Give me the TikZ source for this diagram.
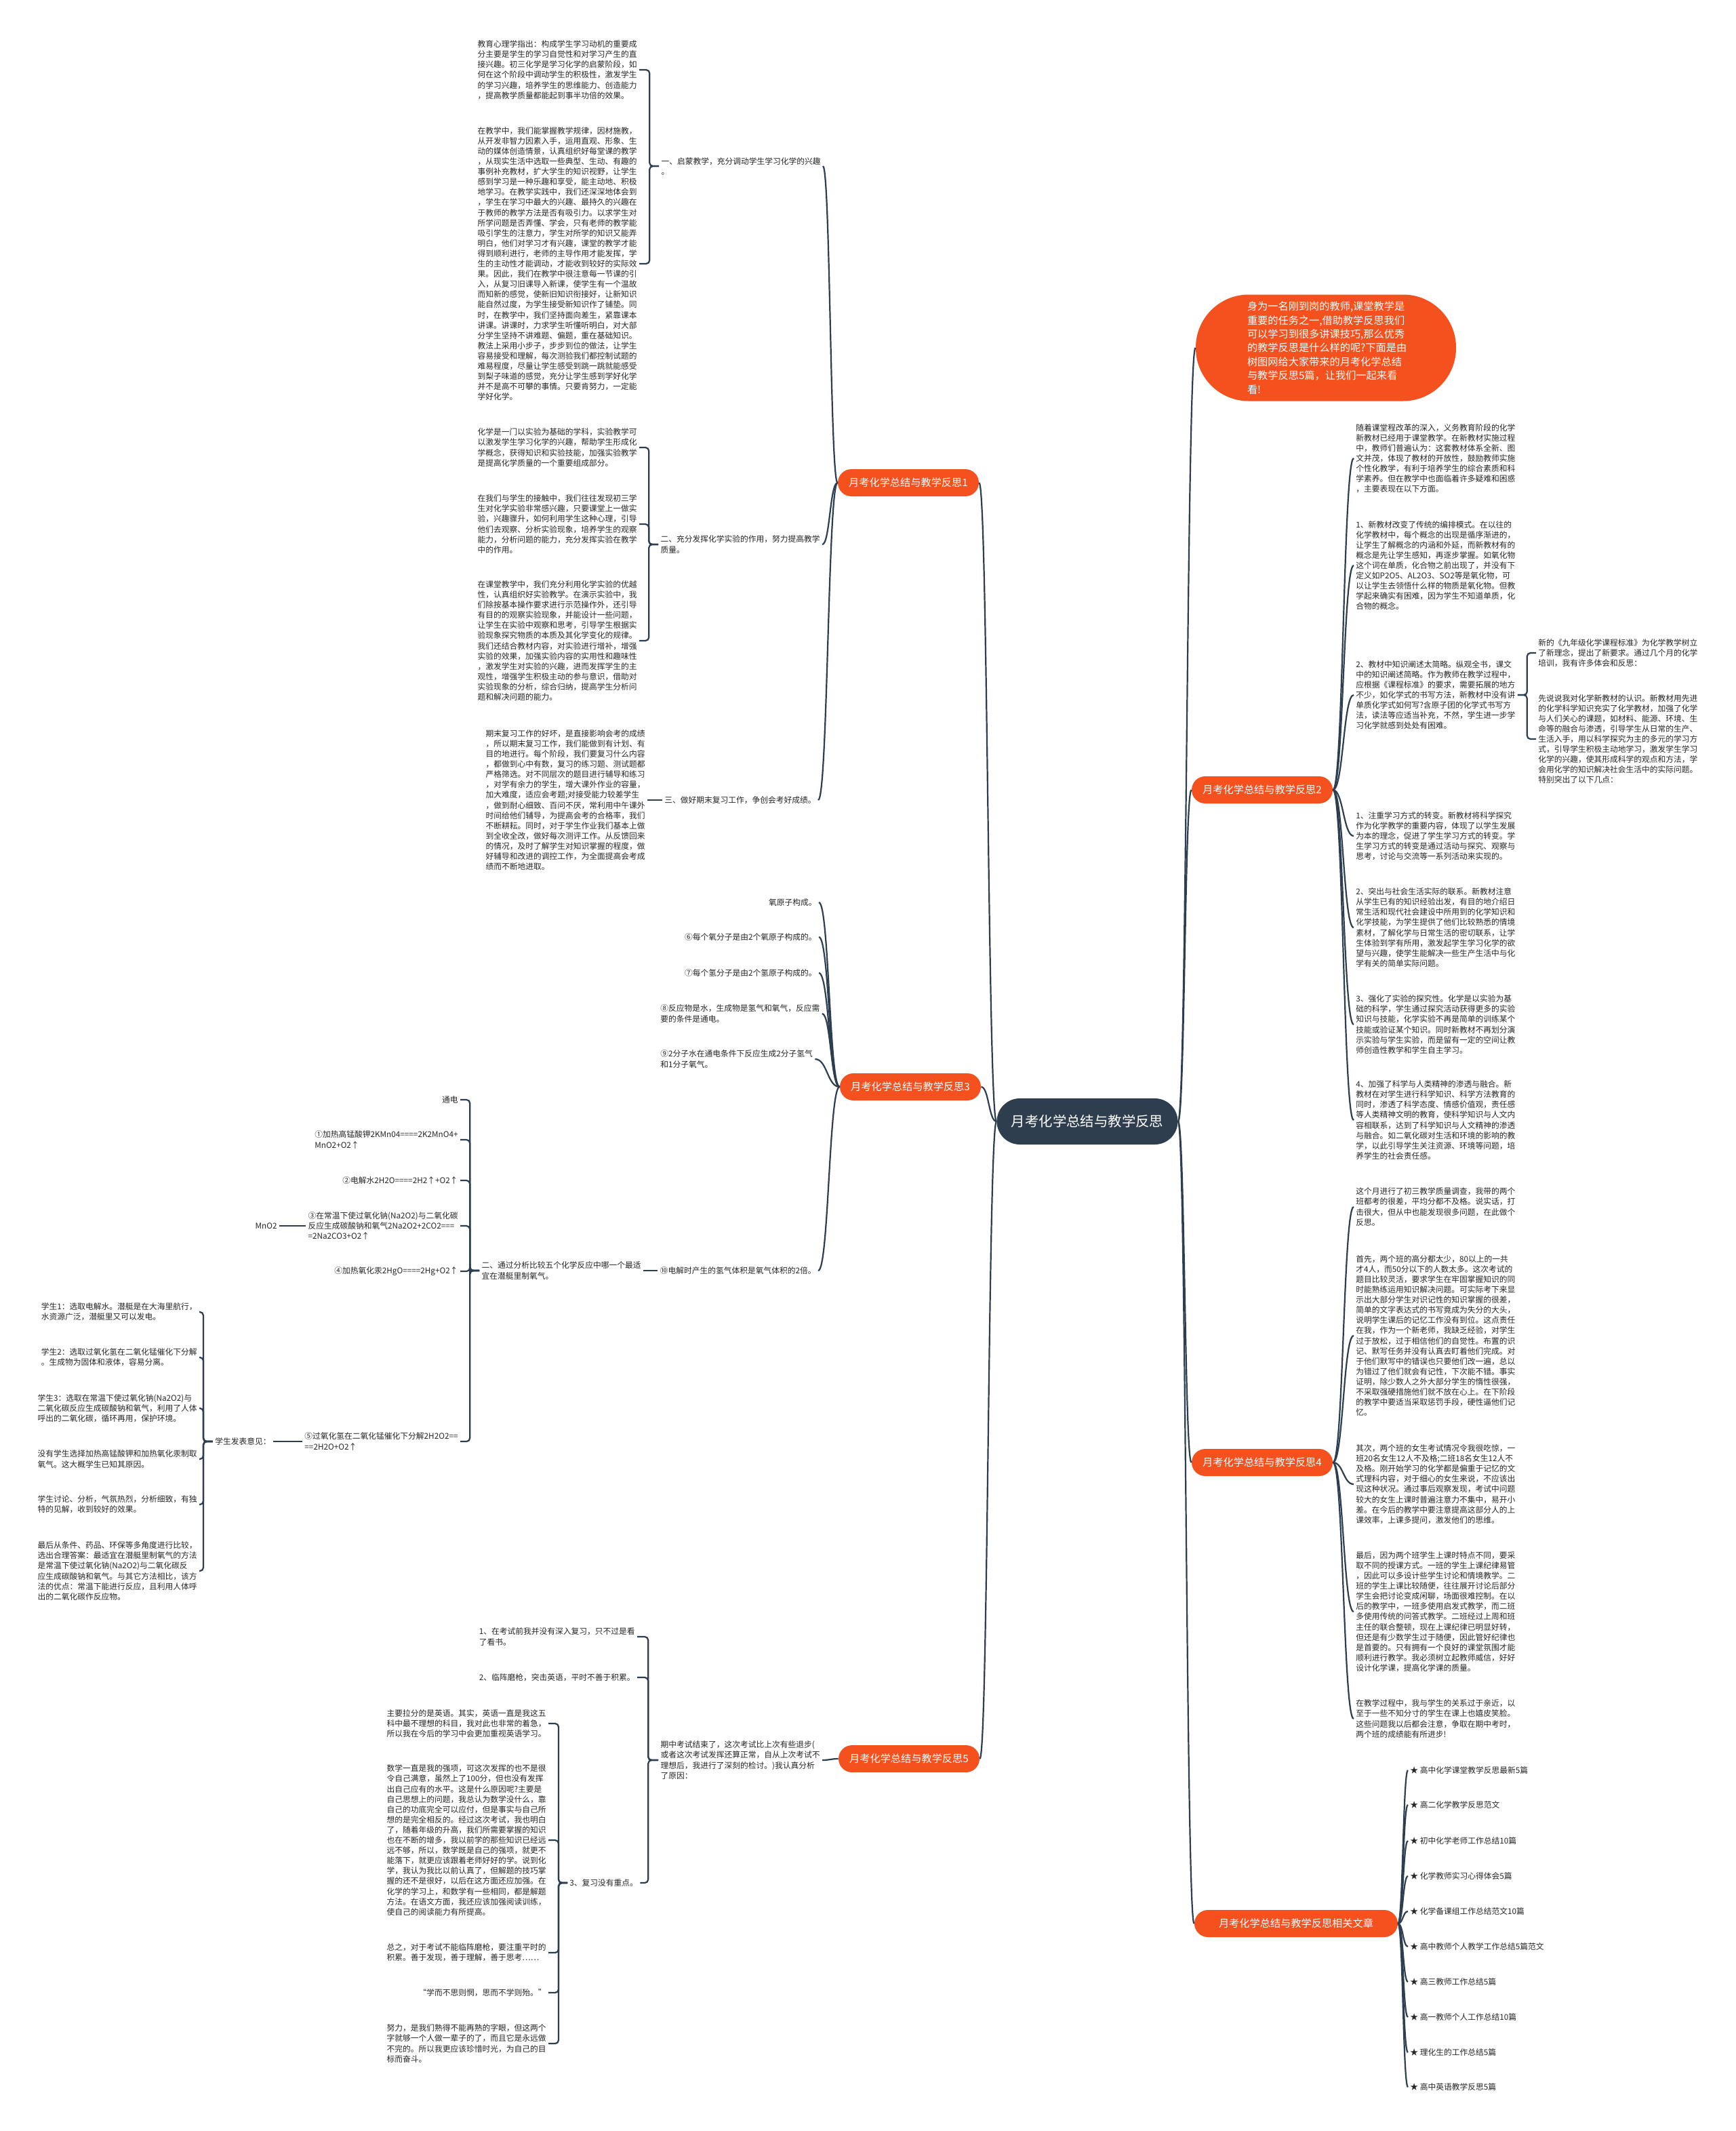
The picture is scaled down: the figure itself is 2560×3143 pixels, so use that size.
\documentclass[tikz,border=0pt]{standalone}
\usepackage{fontspec}
\newfontfamily\cjk{Noto Sans CJK SC}
\usetikzlibrary{calc}
\definecolor{cnxc}{HTML}{2C3E50}
\definecolor{orng}{HTML}{F4511E}
\definecolor{darkc}{HTML}{2E3E4E}
\tikzset{
 base/.style={font=\cjk\fontsize{5.875pt}{7.55pt}\selectfont, inner sep=1.5pt, align=left, text=black!85},
 lft/.style={base, anchor=east},
 rgt/.style={base, anchor=west},
 rgtal/.style={base, anchor=east, align=right},
 brn/.style={fill=orng, text=white, font=\cjk\fontsize{7.6pt}{9pt}\selectfont, rounded corners=10pt, minimum height=20pt, minimum width=104pt, inner xsep=6pt},
 cnx/.style={draw=cnxc, line width=1.1pt}
}
\newcommand\mycurve[2]{\draw[cnx] let \p1=(#1), \p2=(#2) in (\p1) .. controls ({0.5*\x1+0.5*\x2},\y1) and ({0.5*\x1+0.5*\x2},\y2) .. (\p2);}
\newcommand\mybrk[3]{\draw[cnx,rounded corners=2.5pt] (#1) -- ++(#3,0) |- (#2);}
\begin{document}
\begin{tikzpicture}[x=0.5pt,y=-0.5pt]
\path[use as bounding box, fill=white] (0,0) rectangle (2560,3143);
% central
\node[fill=darkc, text=white, font=\cjk\fontsize{10.2pt}{12pt}\selectfont, rounded corners=17pt, minimum width=133.5pt, minimum height=34pt] (c) at (1604,1654) {月考化学总结与教学反思};
% intro
\node[fill=orng, text=white, font=\cjk\fontsize{7.6pt}{10.2pt}\selectfont, rounded corners=39pt, align=left, text width=116pt, inner xsep=38pt, minimum height=78.5pt] (intro) at (1956,513) {身为一名刚到岗的教师,课堂教学是\\重要的任务之一,借助教学反思我们\\可以学习到很多讲课技巧,那么优秀\\的教学反思是什么样的呢?下面是由\\树图网给大家带来的月考化学总结\\与教学反思5篇，让我们一起来看\\看!};
% branches
\node[brn] (b1) at (1340,712) {月考化学总结与教学反思1};
\node[brn] (b2) at (1862,1165) {月考化学总结与教学反思2};
\node[brn] (b3) at (1343,1603) {月考化学总结与教学反思3};
\node[brn] (b4) at (1862,2157) {月考化学总结与教学反思4};
\node[brn] (b5) at (1341,2594) {月考化学总结与教学反思5};
\node[brn, minimum width=150pt] (b6) at (1912,2837) {月考化学总结与教学反思相关文章};

% ---------- branch 1
\node[lft] (l1) at (1214,245) {一、启蒙教学，充分调动学生学习化学的兴趣\\。};
\node[lft] (l2) at (1213,803) {二、充分发挥化学实验的作用，努力提高教学\\质量。};
\node[lft] (l3) at (1207,1180) {三、做好期末复习工作，争创会考好成绩。};
\node[lft] (t1) at (943,103) {教育心理学指出：构成学生学习动机的重要成\\分主要是学生的学习自觉性和对学习产生的直\\接兴趣。初三化学是学习化学的启蒙阶段，如\\何在这个阶段中调动学生的积极性，激发学生\\的学习兴趣，培养学生的思维能力、创造能力\\，提高教学质量都能起到事半功倍的效果。};
\node[lft] (t2) at (943,389) {在教学中，我们能掌握教学规律，因材施教，\\从开发非智力因素入手，运用直观、形象、生\\动的媒体创造情景，认真组织好每堂课的教学\\，从现实生活中选取一些典型、生动、有趣的\\事例补充教材，扩大学生的知识视野，让学生\\感到学习是一种乐趣和享受，能主动地、积极\\地学习。在教学实践中，我们还深深地体会到\\，学生在学习中最大的兴趣、最持久的兴趣在\\于教师的教学方法是否有吸引力。以求学生对\\所学问题是否弄懂、学会，只有老师的教学能\\吸引学生的注意力，学生对所学的知识又能弄\\明白，他们对学习才有兴趣，课堂的教学才能\\得到顺利进行，老师的主导作用才能发挥，学\\生的主动性才能调动，才能收到较好的实际效\\果。因此，我们在教学中很注意每一节课的引\\入，从复习旧课导入新课，使学生有一个温故\\而知新的感觉，使新旧知识衔接好，让新知识\\能自然过度，为学生接受新知识作了铺垫。同\\时，在教学中，我们坚持面向差生，紧靠课本\\讲课。讲课时，力求学生听懂听明白，对大部\\分学生坚持不讲难题、偏题，重在基础知识。\\教法上采用小步子，步步到位的做法，让学生\\容易接受和理解，每次测验我们都控制试题的\\难易程度，尽量让学生感受到跳一跳就能感受\\到梨子味道的感觉，充分让学生感到学好化学\\并不是高不可攀的事情。只要肯努力，一定能\\学好化学。};
\node[lft] (t3) at (943,660) {化学是一门以实验为基础的学科，实验教学可\\以激发学生学习化学的兴趣，帮助学生形成化\\学概念，获得知识和实验技能，加强实验教学\\是提高化学质量的一个重要组成部分。};
\node[lft] (t4) at (943,773) {在我们与学生的接触中，我们往往发现初三学\\生对化学实验非常感兴趣，只要课堂上一做实\\验，兴趣骤升，如何利用学生这种心理，引导\\他们去观察、分析实验现象，培养学生的观察\\能力，分析问题的能力，充分发挥实验在教学\\中的作用。};
\node[lft] (t5) at (943,945) {在课堂教学中，我们充分利用化学实验的优越\\性，认真组织好实验教学。在演示实验中，我\\们除按基本操作要求进行示范操作外，还引导\\有目的的观察实验现象，并能设计一些问题，\\让学生在实验中观察和思考，引导学生根据实\\验现象探究物质的本质及其化学变化的规律。\\我们还结合教材内容，对实验进行增补，增强\\实验的效果，加强实验内容的实用性和趣味性\\，激发学生对实验的兴趣，进而发挥学生的主\\观性，增强学生积极主动的参与意识，借助对\\实验现象的分析，综合归纳，提高学生分析问\\题和解决问题的能力。};
\node[lft] (t6) at (955,1180) {期末复习工作的好坏，是直接影响会考的成绩\\，所以期末复习工作，我们能做到有计划、有\\目的地进行。每个阶段，我们要复习什么内容\\，都做到心中有数，复习的练习题、测试题都\\严格筛选。对不同层次的题目进行辅导和练习\\，对学有余力的学生，增大课外作业的容量，\\加大难度，适应会考题;对接受能力较差学生\\，做到耐心细致、百问不厌，常利用中午课外\\时间给他们辅导，为提高会考的合格率，我们\\不断耕耘。同时，对于学生作业我们基本上做\\到全收全改，做好每次测评工作。从反馈回来\\的情况，及时了解学生对知识掌握的程度，做\\好辅导和改进的调控工作，为全面提高会考成\\绩而不断地进取。};

% ---------- branch 3
\node[rgtal] (o1) at (1208,1331) {氧原子构成。};
\node[rgtal] (o6) at (1208,1382) {⑥每个氧分子是由2个氧原子构成的。};
\node[rgtal] (o7) at (1208,1435) {⑦每个氢分子是由2个氢原子构成的。};
\node[rgt] (o8) at (971,1495) {⑧反应物是水，生成物是氢气和氧气，反应需\\要的条件是通电。};
\node[rgt] (o9) at (971,1562) {⑨2分子水在通电条件下反应生成2分子氢气\\和1分子氧气。};
\node[lft] (o10) at (1207,1874) {⑩电解时产生的氢气体积是氧气体积的2倍。};
\node[lft] (s2) at (949,1874) {二、通过分析比较五个化学反应中哪一个最适\\宜在潜艇里制氧气。};
\node[lft] (e0) at (679,1622) {通电};
\node[lft] (e1) at (679,1681) {①加热高锰酸钾2KMn04====2K2MnO4+\\MnO2+O2↑};
\node[lft] (e2) at (679,1741) {②电解水2H2O====2H2↑+O2↑};
\node[lft] (e3) at (679,1808) {③在常温下使过氧化钠(Na2O2)与二氧化碳\\反应生成碳酸钠和氧气2Na2O2+2CO2===\\=2Na2CO3+O2↑};
\node[lft] (mno) at (412,1808) {MnO2};
\node[lft] (e4) at (679,1875) {④加热氧化汞2HgO====2Hg+O2↑};
\node[lft] (e5) at (679,2126) {⑤过氧化氢在二氧化锰催化下分解2H2O2==\\==2H2O+O2↑};
\node[lft] (stu) at (403,2126) {学生发表意见：};
\node[lft] (st1) at (294,1935) {学生1：选取电解水。潜艇是在大海里航行，\\水资源广泛，潜艇里又可以发电。};
\node[lft] (st2) at (294,2002) {学生2：选取过氧化氢在二氧化锰催化下分解\\。生成物为固体和液体，容易分离。};
\node[lft] (st3) at (294,2077) {学生3：选取在常温下使过氧化钠(Na2O2)与\\二氧化碳反应生成碳酸钠和氧气，利用了人体\\呼出的二氧化碳，循环再用，保护环境。};
\node[lft] (st4) at (294,2152) {没有学生选择加热高锰酸钾和加热氧化汞制取\\氧气。这大概学生已知其原因。};
\node[lft] (st5) at (294,2219) {学生讨论、分析，气氛热烈，分析细致，有独\\特的见解，收到较好的效果。};
\node[lft] (st6) at (294,2317) {最后从条件、药品、环保等多角度进行比较，\\选出合理答案：最适宜在潜艇里制氧气的方法\\是常温下使过氧化钠(Na2O2)与二氧化碳反\\应生成碳酸钠和氧气。与其它方法相比，该方\\法的优点：常温下能进行反应，且利用人体呼\\出的二氧化碳作反应物。};

% ---------- branch 5
\node[lft] (m0) at (1213,2596) {期中考试结束了，这次考试比上次有些退步(\\或者这次考试发挥还算正常，自从上次考试不\\理想后，我进行了深刻的检讨。)我认真分析\\了原因：};
\node[lft] (m1) at (940,2414) {1、在考试前我并没有深入复习，只不过是看\\了看书。};
\node[lft] (m2) at (940,2474) {2、临阵磨枪，突击英语，平时不善于积累。};
\node[rgt] (m3) at (837,2777) {3、复习没有重点。};
\node[lft] (n1) at (809,2542) {主要拉分的是英语。其实，英语一直是我这五\\科中最不理想的科目，我对此也非常的着急，\\所以我在今后的学习中会更加重视英语学习。};
\node[lft] (n2) at (809,2714) {数学一直是我的强项，可这次发挥的也不是很\\令自己满意，虽然上了100分，但也没有发挥\\出自己应有的水平。这是什么原因呢?主要是\\自己思想上的问题，我总认为数学没什么，靠\\自己的功底完全可以应付，但是事实与自己所\\想的是完全相反的。经过这次考试，我也明白\\了，随着年级的升高，我们所需要掌握的知识\\也在不断的增多，我以前学的那些知识已经远\\远不够，所以，数学既是自己的强项，就更不\\能落下，就更应该跟着老师好好的学。说到化\\学，我认为我比以前认真了，但解题的技巧掌\\握的还不是很好，以后在这方面还应加强。在\\化学的学习上，和数学有一些相同，都是解题\\方法。在语文方面，我还应该加强阅读训练，\\使自己的阅读能力有所提高。};
\node[lft] (n3) at (809,2880) {总之，对于考试不能临阵磨枪，要注重平时的\\积累。善于发现，善于理解，善于思考……};
\node[rgtal] (n4) at (809,2939) {“学而不思则惘，思而不学则殆。”};
\node[lft] (n5) at (809,3014) {努力，是我们熟得不能再熟的字眼，但这两个\\字就够一个人做一辈子的了，而且它是永远做\\不完的。所以我更应该珍惜时光，为自己的目\\标而奋斗。};

% ---------- branch 2
\node[rgt] (r1) at (1997,676) {随着课堂程改革的深入，义务教育阶段的化学\\新教材已经用于课堂教学。在新教材实施过程\\中，教师们普遍认为：这套教材体系全新、图\\文并茂，体现了教材的开放性，鼓励教师实施\\个性化教学，有利于培养学生的综合素质和科\\学素养。但在教学中也面临着许多疑难和困惑\\，主要表现在以下方面。};
\node[rgt] (r2) at (1997,834) {1、新教材改变了传统的编排模式。在以往的\\化学教材中，每个概念的出现是循序渐进的，\\让学生了解概念的内涵和外延，而新教材有的\\概念是先让学生感知，再逐步掌握。如氧化物\\这个词在单质，化合物之前出现了，并没有下\\定义如P2O5、AL2O3、SO2等是氧化物，可\\以让学生去领悟什么样的物质是氧化物。但教\\学起来确实有困难，因为学生不知道单质，化\\合物的概念。};
\node[rgt] (r3) at (1997,1025) {2、教材中知识阐述太简略。纵观全书，课文\\中的知识阐述简略。作为教师在教学过程中，\\应根据《课程标准》的要求，需要拓展的地方\\不少，如化学式的书写方法，新教材中没有讲\\单质化学式如何写?含原子团的化学式书写方\\法，读法等应适当补充，不然，学生进一步学\\习化学就感到处处有困难。};
\node[rgt] (r3a) at (2266,963) {新的《九年级化学课程标准》为化学教学树立\\了新理念，提出了新要求。通过几个月的化学\\培训，我有许多体会和反思：};
\node[rgt] (r3b) at (2266,1090) {先说说我对化学新教材的认识。新教材用先进\\的化学科学知识充实了化学教材，加强了化学\\与人们关心的课题，如材料、能源、环境、生\\命等的融合与渗透，引导学生从日常的生产、\\生活入手，用以科学探究为主的多元的学习方\\式，引导学生积极主动地学习，激发学生学习\\化学的兴趣，使其形成科学的观点和方法，学\\会用化学的知识解决社会生活中的实际问题。\\特别突出了以下几点：};
\node[rgt] (r4) at (1997,1233) {1、注重学习方式的转变。新教材将科学探究\\作为化学教学的重要内容，体现了以学生发展\\为本的理念，促进了学生学习方式的转变。学\\生学习方式的转变是通过活动与探究、观察与\\思考，讨论与交流等一系列活动来实现的。};
\node[rgt] (r5) at (1997,1368) {2、突出与社会生活实际的联系。新教材注意\\从学生已有的知识经验出发，有目的地介绍日\\常生活和现代社会建设中所用到的化学知识和\\化学技能，为学生提供了他们比较熟悉的情境\\素材，了解化学与日常生活的密切联系，让学\\生体验到学有所用，激发起学生学习化学的欲\\望与兴趣，使学生能解决一些生产生活中与化\\学有关的简单实际问题。};
\node[rgt] (r6) at (1997,1511) {3、强化了实验的探究性。化学是以实验为基\\础的科学，学生通过探究活动获得更多的实验\\知识与技能，化学实验不再是简单的训练某个\\技能或验证某个知识。同时新教材不再划分演\\示实验与学生实验，而是留有一定的空间让教\\师创造性教学和学生自主学习。};
\node[rgt] (r7) at (1997,1652) {4、加强了科学与人类精神的渗透与融合。新\\教材在对学生进行科学知识、科学方法教育的\\同时，渗透了科学态度、情感价值观，责任感\\等人类精神文明的教育，使科学知识与人文内\\容相联系，达到了科学知识与人文精神的渗透\\与融合。如二氧化碳对生活和环境的影响的教\\学，以此引导学生关注资源、环境等问题，培\\养学生的社会责任感。};

% ---------- branch 4
\node[rgt] (q1) at (1997,1780) {这个月进行了初三教学质量调查，我带的两个\\班都考的很差，平均分都不及格。说实话，打\\击很大，但从中也能发现很多问题，在此做个\\反思。};
\node[rgt] (q2) at (1997,1970) {首先，两个班的高分都太少，80以上的一共\\才4人，而50分以下的人数太多。这次考试的\\题目比较灵活，要求学生在牢固掌握知识的同\\时能熟练运用知识解决问题。可实际考下来显\\示出大部分学生对识记性的知识掌握的很差，\\简单的文字表达式的书写竟成为失分的大头，\\说明学生课后的记忆工作没有到位。这点责任\\在我，作为一个新老师，我缺乏经验，对学生\\过于放松，过于相信他们的自觉性。布置的识\\记、默写任务并没有认真去盯着他们完成。对\\于他们默写中的错误也只要他们改一遍，总以\\为错过了他们就会有记性，下次能不错。事实\\证明，除少数人之外大部分学生的惰性很强，\\不采取强硬措施他们就不放在心上。在下阶段\\的教学中要适当采取惩罚手段，硬性逼他们记\\忆。};
\node[rgt] (q3) at (1997,2189) {其次，两个班的女生考试情况令我很吃惊，一\\班20名女生12人不及格;二班18名女生12人不\\及格。刚开始学习的化学都是偏重于记忆的文\\式理科内容，对于细心的女生来说，不应该出\\现这种状况。通过事后观察发现，考试中问题\\较大的女生上课时普遍注意力不集中，易开小\\差。在今后的教学中要注意提高这部分人的上\\课效率，上课多提问，激发他们的思维。};
\node[rgt] (q4) at (1997,2377) {最后，因为两个班学生上课时特点不同，要采\\取不同的授课方式。一班的学生上课纪律易管\\，因此可以多设计些学生讨论和情境教学。二\\班的学生上课比较随便，往往展开讨论后部分\\学生会把讨论变成闲聊，场面很难控制。在以\\后的教学中，一班多使用启发式教学，而二班\\多使用传统的问答式教学。二班经过上周和班\\主任的联合整顿，现在上课纪律已明显好转，\\但还是有少数学生过于随便，因此管好纪律也\\是首要的。只有拥有一个良好的课堂氛围才能\\顺利进行教学。我必须树立起教师威信，好好\\设计化学课，提高化学课的质量。};
\node[rgt] (q5) at (1997,2535) {在教学过程中，我与学生的关系过于亲近，以\\至于一些不知分寸的学生在课上也嬉皮笑脸。\\这些问题我以后都会注意，争取在期中考时，\\两个班的成绩能有所进步!};

% ---------- related
\node[rgt] (a1) at (2077,2611) {★ 高中化学课堂教学反思最新5篇};
\node[rgt] (a2) at (2077,2662) {★ 高二化学教学反思范文};
\node[rgt] (a3) at (2077,2715) {★ 初中化学老师工作总结10篇};
\node[rgt] (a4) at (2077,2767) {★ 化学教师实习心得体会5篇};
\node[rgt] (a5) at (2077,2819) {★ 化学备课组工作总结范文10篇};
\node[rgt] (a6) at (2077,2871) {★ 高中教师个人教学工作总结5篇范文};
\node[rgt] (a7) at (2077,2923) {★ 高三教师工作总结5篇};
\node[rgt] (a8) at (2077,2975) {★ 高一教师个人工作总结10篇};
\node[rgt] (a9) at (2077,3027) {★ 理化生的工作总结5篇};
\node[rgt] (a10) at (2077,3078) {★ 高中英语教学反思5篇};

% ---------- connectors
\mycurve{c.west}{b1.east}
\mycurve{c.west}{b3.east}
\mycurve{c.west}{b5.east}
\mycurve{c.east}{intro.west}
\mycurve{c.east}{b2.west}
\mycurve{c.east}{b4.west}
\mycurve{c.east}{b6.west}
% branch 1
\mycurve{b1.west}{l1.east}
\mycurve{b1.west}{l2.east}
\mycurve{b1.west}{l3.east}
\mybrk{l1.west}{t1.east}{-14}
\mybrk{l1.west}{t2.east}{-14}
\mybrk{l2.west}{t3.east}{-14}
\mybrk{l2.west}{t4.east}{-14}
\mybrk{l2.west}{t5.east}{-14}
\draw[cnx] (l3.west) -- (t6.east);
% branch 3
\foreach \k in {o1,o6,o7,o8,o9,o10}{\mycurve{b3.west}{\k.east}}
\draw[cnx] (o10.west) -- (s2.east);
\foreach \k in {e0,e1,e2,e3,e4,e5}{\mybrk{s2.west}{\k.east}{-14}}
\draw[cnx] (e3.west) -- (mno.east);
\draw[cnx] (e5.west) -- (stu.east);
\foreach \k in {st1,st2,st3,st4,st5,st6}{\mybrk{stu.west}{\k.east}{-14}}
% branch 5
\mycurve{b5.west}{m0.east}
\foreach \k in {m1,m2,m3}{\mybrk{m0.west}{\k.east}{-15}}
\foreach \k in {n1,n2,n3,n4,n5}{\mybrk{m3.west}{\k.east}{-13}}
% branch 2
\foreach \k in {r1,r2,r3,r4,r5,r6,r7}{\mycurve{b2.east}{\k.west}}
\mybrk{r3.east}{r3a.west}{14}
\mybrk{r3.east}{r3b.west}{14}
% branch 4
\foreach \k in {q1,q2,q3,q4,q5}{\mycurve{b4.east}{\k.west}}
% related
\foreach \k in {a1,a2,a3,a4,a5,a6,a7,a8,a9,a10}{\mycurve{b6.east}{\k.west}}
\end{tikzpicture}
\end{document}
